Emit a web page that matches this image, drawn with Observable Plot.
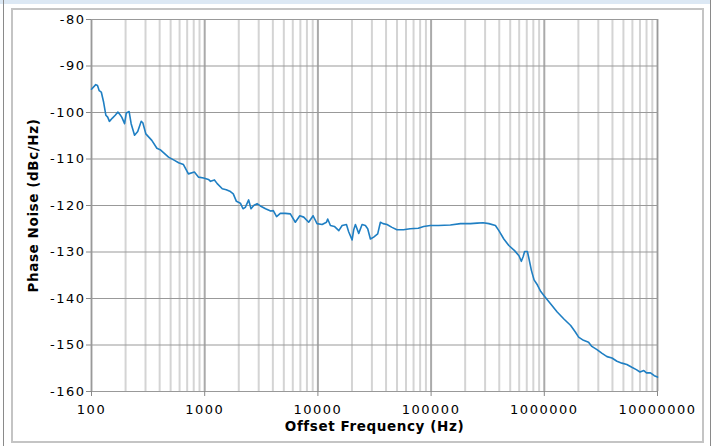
<!DOCTYPE html>
<html>
<head>
<meta charset="utf-8">
<script src="https://cdn.jsdelivr.net/npm/d3@7"></script>
<script src="https://cdn.jsdelivr.net/npm/@observablehq/plot@0.6"></script>
<style>
  html, body { margin: 0; padding: 0; background: #fff; }
  #wrap { position: relative; width: 711px; height: 446px; overflow: hidden; }
  .band { position: absolute; left: 0; top: 0; width: 711px; height: 4px; background: #dce8f4; }
  .outer { position: absolute; left: 3px; top: 0; width: 706px; height: 446px; border-left: 1px solid #8a8a8a; border-right: 1px solid #8a8a8a; }
  .inner { position: absolute; left: 11px; top: 8px; width: 689px; height: 431px; border: 2px solid #c4c4c4; }
  #chart { position: absolute; left: 0; top: 0; }
  .ticklab text { letter-spacing: 1.5px; }
  .ttl text { letter-spacing: 0.6px; }
</style>
</head>
<body>
<div id="wrap">
  <div class="band"></div>
  <div class="outer"></div>
  <div class="inner"></div>
  <div id="chart"></div>
</div>
<script>
// Offset frequency (Hz)
const freq = [
  100, 109, 113, 117, 122, 128, 134, 139, 144, 153, 162, 171, 179, 185, 196, 203, 215, 224, 240, 256,
  275, 284, 302, 341, 378, 404, 479, 541, 588, 649, 718, 811, 883, 977, 1079, 1126, 1219, 1290, 1430, 1550,
  1688, 1788, 1906, 2066, 2180, 2284, 2445, 2565, 2709, 2902, 3103, 3447, 3824, 4037, 4316, 4654, 5152, 5709, 6317, 6918,
  7500, 8290, 9070, 9820, 10900, 11900, 12200, 12900, 13980, 15300, 16370, 17870, 18730, 20060, 20730, 21450, 22950, 24560, 26270, 27540,
  29100, 31100, 33750, 35650, 37630, 40780, 45140, 49900, 57000, 65200, 77000, 85900, 98300, 116000, 148000, 182000, 223000, 255000, 288000, 324000,
  370000, 397000, 439000, 486000, 546000, 597000, 627000, 652000, 670000, 709000, 733000, 770000, 812000, 870000, 931000, 995000, 1140000, 1300000, 1490000, 1710000,
  1880000, 2010000, 2220000, 2460000, 2630000, 2920000, 3240000, 3580000, 3960000, 4380000, 4850000, 5360000, 5930000, 6500000, 7000000, 7570000, 8000000, 8670000, 9360000, 10000000
];
// Phase noise (dBc/Hz)
const phaseNoise = [
  -95.0, -94.0, -94.2, -95.3, -95.6, -97.8, -100.6, -101.0, -101.9, -101.2, -100.6, -99.9, -100.5, -101.0, -102.4, -100.1, -99.8, -102.4, -104.9, -104.1,
  -101.9, -102.2, -104.6, -106.0, -107.7, -108.0, -109.6, -110.3, -110.8, -111.2, -113.2, -112.8, -113.9, -114.1, -114.4, -114.8, -114.5, -115.3, -116.4, -116.6,
  -117.0, -117.5, -119.1, -119.5, -120.7, -120.4, -118.8, -120.7, -120.0, -119.6, -120.1, -120.7, -121.2, -121.1, -122.4, -121.7, -121.7, -121.8, -123.6, -122.2,
  -122.5, -123.6, -122.2, -123.9, -124.1, -123.6, -122.9, -124.3, -124.5, -125.4, -124.3, -124.1, -125.7, -127.4, -125.2, -124.1, -126.0, -124.1, -124.3, -125.0,
  -127.2, -126.8, -126.1, -123.6, -123.9, -124.1, -124.7, -125.2, -125.2, -125.0, -124.9, -124.5, -124.3, -124.3, -124.2, -123.9, -123.9, -123.8, -123.7, -123.9,
  -124.3, -125.4, -127.2, -128.6, -129.7, -130.8, -132.0, -130.9, -129.9, -129.9, -131.5, -134.0, -136.0, -137.1, -138.5, -139.4, -141.2, -142.9, -144.4, -145.8,
  -147.2, -148.3, -149.0, -149.4, -150.3, -151.0, -151.8, -152.5, -152.8, -153.5, -153.9, -154.2, -154.8, -155.3, -155.8, -155.5, -156.0, -156.0, -156.6, -156.9
];
const xTicks = [100, 1000, 10000, 100000, 1000000, 10000000];
const yTicks = [-80, -90, -100, -110, -120, -130, -140, -150, -160];
const minorMultipliers = [2, 3, 4, 5, 6, 7, 8, 9];

const xMinor = xTicks.slice(0, -1).flatMap(d => minorMultipliers.map(m => d * m));
const data = freq.map((f, i) => ({f, v: phaseNoise[i]}));
const font = "'DejaVu Sans', Verdana, sans-serif";

const chart = Plot.plot({
  width: 711,
  height: 446,
  marginLeft: 91,
  marginRight: 54,
  marginTop: 19,
  marginBottom: 55,
  style: {background: "transparent", fontFamily: font, fontSize: "13px", color: "#000"},
  x: {type: "log", domain: [100, 10000000]},
  y: {domain: [-160, -80]},
  marks: [
    Plot.ruleX(xMinor, {stroke: "#d4d4d4", strokeWidth: 2}),
    Plot.ruleX(xTicks, {stroke: "#aaaaaa", strokeWidth: 2}),
    Plot.ruleY(yTicks, {stroke: "#999999", strokeWidth: 1}),
    Plot.frame({stroke: "#999999"}),
    Plot.axisX({ticks: xTicks, tickFormat: d => String(d), tickSize: 5, tickPadding: 8, stroke: "#888", label: null, fontSize: 13, className: "ticklab"}),
    Plot.axisY({ticks: yTicks, tickFormat: d => String(d), tickSize: 5, tickPadding: 1, stroke: "#888", label: null, fontSize: 13, className: "ticklab"}),
    Plot.text(["Offset Frequency (Hz)"], {frameAnchor: "bottom", dy: 35, lineAnchor: "middle", textAnchor: "middle", fontWeight: "bold", fontSize: 13.5, className: "ttl"}),
    Plot.text(["Phase Noise (dBc/Hz)"], {frameAnchor: "left", dx: -58, rotate: -90, lineAnchor: "middle", textAnchor: "middle", fontWeight: "bold", fontSize: 13.5, className: "ttl"}),
    Plot.line(data, {x: "f", y: "v", stroke: "#1f7fc3", strokeWidth: 1.6})
  ]
});
document.getElementById("chart").appendChild(chart);
</script>
</body>
</html>
